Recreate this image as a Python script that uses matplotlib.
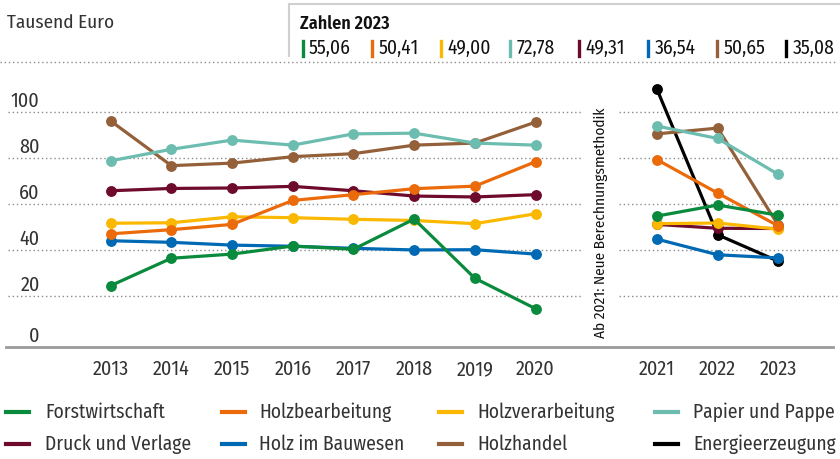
import matplotlib as mpl
mpl.use('Agg')
import matplotlib.pyplot as plt
import matplotlib.transforms as mtransforms
from matplotlib.lines import Line2D

plt.rcParams['font.family'] = ['Fira Sans Condensed', 'Roboto Condensed', 'Roboto', 'DejaVu Sans']

# data (Tausend Euro) - old method 2013-2020, new method 2021-2023
years_old = [2013, 2014, 2015, 2016, 2017, 2018, 2019, 2020]
years_new = [2021, 2022, 2023]

names = ['Forstwirtschaft', 'Holzbearbeitung', 'Holzverarbeitung', 'Papier und Pappe',
         'Druck und Verlage', 'Holz im Bauwesen', 'Holzhandel', 'Energieerzeugung']
colors = ['#0a8a3c', '#eb6a0a', '#fbb800', '#6cbdb0', '#6e0a2c', '#0069b4', '#94603a', '#000000']

forst_old = [24.5, 36.4, 38.2, 41.7, 40.3, 53.4, 27.7, 14.5]
forst_new = [54.7, 59.5, 55.06]
bearb_old = [47.0, 48.8, 51.1, 61.5, 64.0, 66.6, 67.7, 78.3]
bearb_new = [79.2, 64.7, 50.41]
verarb_old = [51.6, 51.8, 54.4, 54.0, 53.3, 52.8, 51.4, 55.7]
verarb_new = [51.4, 51.7, 49.00]
papier_old = [78.7, 83.7, 87.7, 85.5, 90.4, 90.7, 86.4, 85.5]
papier_new = [93.8, 88.4, 72.78]
druck_old = [65.7, 66.7, 66.9, 67.6, 65.7, 63.4, 63.0, 64.0]
druck_new = [51.1, 49.4, 49.31]
bau_old = [44.0, 43.3, 42.1, 41.6, 40.7, 40.0, 40.1, 38.2]
bau_new = [44.7, 37.9, 36.54]
handel_old = [96.0, 76.6, 77.7, 80.5, 81.8, 85.5, 86.4, 95.5]
handel_new = [90.4, 92.9, 50.65]
energie_old = []
energie_new = [109.8, 46.6, 35.08]

values_2023 = ['55,06', '50,41', '49,00', '72,78', '49,31', '36,54', '50,65', '35,08']

old_series = [forst_old, bearb_old, verarb_old, papier_old, druck_old, bau_old, handel_old, energie_old]
new_series = [forst_new, bearb_new, verarb_new, papier_new, druck_new, bau_new, handel_new, energie_new]

yticks = [20, 40, 60, 80, 100]

W, H = 840, 459
fig = plt.figure(figsize=(W / 100, H / 100), dpi=100)

def fx(px):
    return px / W

def fy(py):
    return 1 - py / H

# axes placed in pixel units, one slot gap between 2020 and 2021
ax = fig.add_axes([fx(8), fy(347), fx(832), 285 / H])
x_old = list(range(len(years_old)))
x_new = [len(years_old) + 1 + i for i in range(len(years_new))]
ax.set_xlim(-1.692, 12.016)
ax.set_ylim(-2.14, 121.6)
ax.axis('off')

text_col = '#333333'
grid_col = '#8c8c8c'

# broken gridlines
for v in yticks:
    ax.plot([-1.692, 7.76], [v, v], color=grid_col, lw=1, ls=(0, (1, 2)), zorder=1)
    ax.plot([8.37, 11.96], [v, v], color=grid_col, lw=1, ls=(0, (1, 2)), zorder=1)

# baseline
ax.plot([-1.72, 11.9], [-2.14, -2.14], color='#9a9a9a', lw=2, zorder=1, clip_on=False)

# y labels sitting on top of the gridlines
lab_trans = mtransforms.offset_copy(ax.transData, fig=fig, x=0, y=5, units='dots')
for v in yticks:
    ax.text(-1.17, v, str(v), ha='right', va='baseline', fontsize=14.5,
            color=text_col, transform=lab_trans)
ax.text(-1.17, -2.14, '0', ha='right', va='baseline', fontsize=14.5,
        color=text_col, transform=lab_trans)

# year labels
for xi, yr in zip(x_old + x_new, years_old + years_new):
    ax.text(xi, -2.14, str(yr), ha='center', va='top', fontsize=14.5, color=text_col,
            transform=mtransforms.offset_copy(ax.transData, fig=fig, x=0, y=-13, units='dots'))

# lines, drawn last-legend-entry first
n = len(names)
for k in range(n):
    z = 10 + (n - k)
    if old_series[k]:
        ax.plot(x_old, old_series[k], color=colors[k], lw=2.3, marker='o', ms=6.8,
                zorder=z, clip_on=False)
    ax.plot(x_new, new_series[k], color=colors[k], lw=2.3, marker='o', ms=6.8,
            zorder=z, clip_on=False)

ax.text(8.08, 52, 'Ab 2021: Neue Berechnungsmethodik', rotation=90, ha='center',
        va='center', fontsize=11, color='#111111')

# header
fig.text(fx(7), fy(23), 'Tausend Euro', ha='left', va='center', fontsize=13.8, color=text_col)
fig.add_artist(Line2D([fx(289), fx(840)], [fy(4), fy(4)], color='#d0d0d0', lw=1.5))
fig.add_artist(Line2D([fx(289), fx(289)], [fy(4), fy(56)], color='#d0d0d0', lw=1.5))
fig.text(fx(300), fy(24), 'Zahlen 2023', ha='left', va='center', fontsize=13,
         fontweight='semibold', color='#111111')
for k in range(n):
    bx = 301 + 69.1 * k
    fig.add_artist(Line2D([fx(bx + 1.5), fx(bx + 1.5)], [fy(41), fy(56)], color=colors[k], lw=2.4))
    fig.text(fx(bx + 8), fy(48), values_2023[k], ha='left', va='center', fontsize=14,
             color='#111111')
fig.add_artist(Line2D([fx(0), fx(836)], [fy(62), fy(62)], color=grid_col, lw=1, ls=(0, (1, 2))))

# legend
leg_line_x = [6, 222, 439, 655]
leg_text_x = [45, 259, 477, 693]
leg_row_y = [412, 444]
for k in range(n):
    col = k % 4
    row = k // 4
    yy = fy(leg_row_y[row])
    fig.add_artist(Line2D([fx(leg_line_x[col]), fx(leg_line_x[col] + 23)], [yy, yy],
                          color=colors[k], lw=3))
    fig.text(fx(leg_text_x[col]), yy, names[k], ha='left', va='center', fontsize=14,
             color=text_col)

plt.savefig('out.png', dpi=100)
